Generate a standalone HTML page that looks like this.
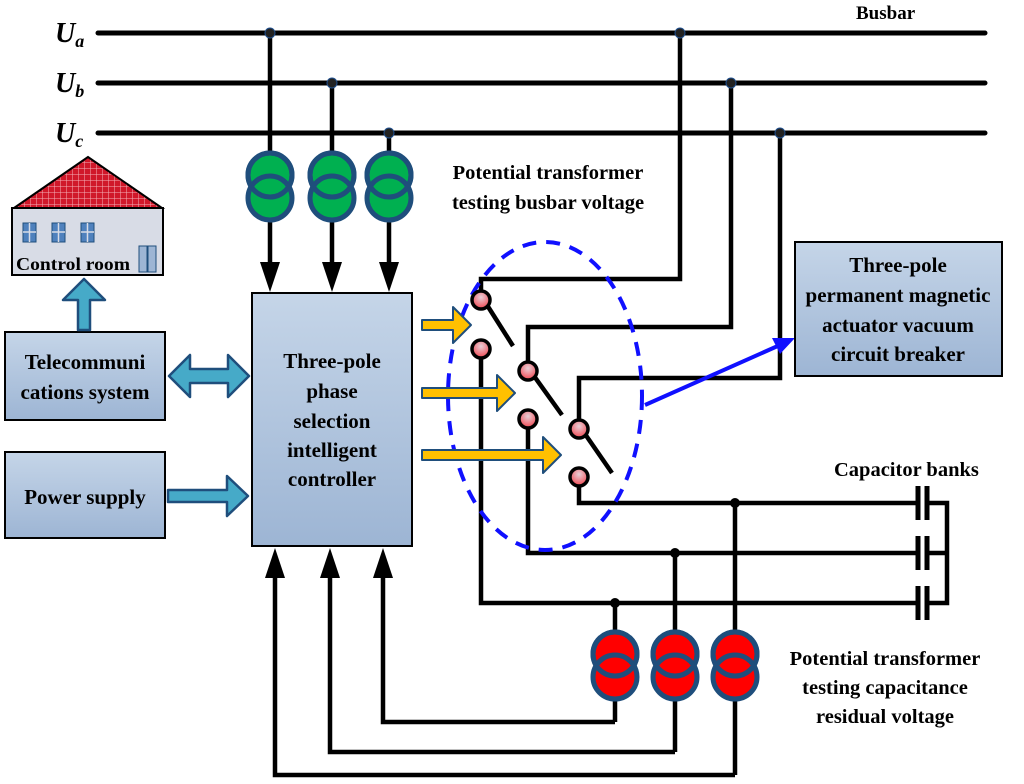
<!DOCTYPE html>
<html><head><meta charset="utf-8"><style>
html,body{margin:0;padding:0;background:#fff}
svg{display:block}
text{font-family:"Liberation Serif",serif;font-weight:bold;fill:#000}
</style></head><body>
<svg width="1024" height="784" viewBox="0 0 1024 784" xmlns="http://www.w3.org/2000/svg">
<defs>
<linearGradient id="bx" x1="0" y1="0" x2="0" y2="1"><stop offset="0" stop-color="#c5d5e8"/><stop offset="1" stop-color="#9db5d4"/></linearGradient>
<radialGradient id="ct" cx="0.5" cy="0.35" r="0.6"><stop offset="0" stop-color="#e8d0d8"/><stop offset="1" stop-color="#f0505a"/></radialGradient>
<pattern id="rf" width="6" height="6" patternUnits="userSpaceOnUse"><rect width="6" height="6" fill="#d0182a"/><path d="M0 0H6M0 0V6" stroke="#f4b0b8" stroke-width="1"/></pattern>
</defs>
<g stroke="#000" stroke-width="5" fill="none" stroke-linecap="round">
<line x1="98" y1="33" x2="985" y2="33"/>
<line x1="98" y1="83" x2="985" y2="83"/>
<line x1="98" y1="133" x2="985" y2="133"/>
</g>
<text x="55" y="42" font-size="28" font-style="italic">U<tspan font-size="18" dy="5">a</tspan></text>
<text x="55" y="92" font-size="28" font-style="italic">U<tspan font-size="18" dy="5">b</tspan></text>
<text x="55" y="142" font-size="28" font-style="italic">U<tspan font-size="18" dy="5">c</tspan></text>
<text x="856" y="19" font-size="19">Busbar</text>
<g stroke="#000" stroke-width="4.5" fill="none">
<line x1="270" y1="33" x2="270" y2="265"/>
<line x1="332" y1="83" x2="332" y2="265"/>
<line x1="389" y1="133" x2="389" y2="265"/>
<polyline points="481,300 481,279 680,279 680,33"/>
<polyline points="528,371 528,327 731,327 731,83"/>
<polyline points="579,429 579,378 780,378 780,133"/>
<polyline points="481,349 481,603 918,603"/>
<polyline points="528,419 528,553 918,553"/>
<polyline points="579,477 579,503 918,503"/>
<polyline points="927,503 947,503 947,603 927,603"/>
<line x1="927" y1="553" x2="947" y2="553"/>
<line x1="615" y1="603" x2="615" y2="722"/><polyline points="615,722 383,722 383,575"/>
<line x1="675" y1="553" x2="675" y2="752"/><polyline points="675,752 330,752 330,575"/>
<line x1="735" y1="503" x2="735" y2="775"/><polyline points="735,775 275,775 275,575"/>
<line x1="513" y1="346" x2="487" y2="305"/>
<line x1="562" y1="415" x2="534" y2="376"/>
<line x1="612" y1="473" x2="585" y2="434"/>
</g>
<g stroke="#000" stroke-width="5">
<line x1="918" y1="486" x2="918" y2="520"/><line x1="927" y1="486" x2="927" y2="520"/>
<line x1="918" y1="536" x2="918" y2="570"/><line x1="927" y1="536" x2="927" y2="570"/>
<line x1="918" y1="586" x2="918" y2="620"/><line x1="927" y1="586" x2="927" y2="620"/>
</g>
<g fill="#000">
<path d="M260 262h20l-10 30z"/><path d="M322 262h20l-10 30z"/><path d="M379 262h20l-10 30z"/>
<path d="M265 578h20l-10 -30z"/><path d="M320 578h20l-10 -30z"/><path d="M373 578h20l-10 -30z"/>
<circle cx="615" cy="603" r="5"/><circle cx="675" cy="553" r="5"/><circle cx="735" cy="503" r="5"/>
</g>
<g fill="#222" stroke="#1f4e8c" stroke-width="1">
<circle cx="270" cy="33" r="5"/><circle cx="680" cy="33" r="5"/><circle cx="332" cy="83" r="5"/><circle cx="731" cy="83" r="5"/><circle cx="389" cy="133" r="5"/><circle cx="780" cy="133" r="5"/>
</g>
<g stroke="#1f4e7c" stroke-width="5" fill="#00b050">
<circle cx="270" cy="175" r="22"/><circle cx="270" cy="198" r="22"/><circle cx="270" cy="175" r="22" fill="none"/>
<circle cx="332" cy="175" r="22"/><circle cx="332" cy="198" r="22"/><circle cx="332" cy="175" r="22" fill="none"/>
<circle cx="389" cy="175" r="22"/><circle cx="389" cy="198" r="22"/><circle cx="389" cy="175" r="22" fill="none"/>
</g>
<g stroke="#1f4e7c" stroke-width="5" fill="#ff0000">
<circle cx="615" cy="654" r="22"/><circle cx="615" cy="677" r="22"/><circle cx="615" cy="654" r="22" fill="none"/>
<circle cx="675" cy="654" r="22"/><circle cx="675" cy="677" r="22"/><circle cx="675" cy="654" r="22" fill="none"/>
<circle cx="735" cy="654" r="22"/><circle cx="735" cy="677" r="22"/><circle cx="735" cy="654" r="22" fill="none"/>
</g>
<text x="548" y="179" font-size="20.5" text-anchor="middle">Potential transformer</text>
<text x="548" y="209" font-size="20.5" text-anchor="middle">testing busbar voltage</text>
<text x="834" y="476" font-size="20.5">Capacitor banks</text>
<text x="885" y="665" font-size="20.5" text-anchor="middle">Potential transformer</text>
<text x="885" y="694" font-size="20.5" text-anchor="middle">testing capacitance</text>
<text x="885" y="723" font-size="20.5" text-anchor="middle">residual voltage</text>
<ellipse cx="545" cy="396" rx="97" ry="154" fill="none" stroke="#1010ff" stroke-width="4" stroke-dasharray="14,10"/>
<line x1="645" y1="405" x2="780" y2="345" stroke="#1010ff" stroke-width="4"/>
<path d="M795 338L772 338L780 354z" fill="#1010ff"/>
<g stroke="#000" stroke-width="3.5" fill="url(#ct)">
<circle cx="481" cy="300" r="9"/><circle cx="481" cy="349" r="9"/>
<circle cx="528" cy="371" r="9"/><circle cx="528" cy="419" r="9"/>
<circle cx="579" cy="429" r="9"/><circle cx="579" cy="477" r="9"/>
</g>
<g fill="#ffc000" stroke="#1f4e7c" stroke-width="2" stroke-linejoin="round">
<path d="M422 320h31v-13l18 18l-18 18v-13h-31z"/>
<path d="M422 388h75v-13l18 18l-18 18v-13h-75z"/>
<path d="M422 450h121v-13l18 18l-18 18v-13h-121z"/>
</g>
<rect x="252" y="293" width="160" height="253" fill="url(#bx)" stroke="#000" stroke-width="2"/>
<text x="332" y="368" font-size="21" text-anchor="middle">Three-pole</text>
<text x="332" y="398" font-size="21" text-anchor="middle">phase</text>
<text x="332" y="428" font-size="21" text-anchor="middle">selection</text>
<text x="332" y="457" font-size="21" text-anchor="middle">intelligent</text>
<text x="332" y="486" font-size="21" text-anchor="middle">controller</text>
<rect x="5" y="332" width="160" height="88" fill="url(#bx)" stroke="#000" stroke-width="2"/>
<text x="85" y="369" font-size="21" text-anchor="middle">Telecommuni</text>
<text x="85" y="399" font-size="21" text-anchor="middle">cations system</text>
<rect x="5" y="452" width="160" height="86" fill="url(#bx)" stroke="#000" stroke-width="2"/>
<text x="85" y="504" font-size="21" text-anchor="middle">Power supply</text>
<rect x="795" y="242" width="207" height="134" fill="url(#bx)" stroke="#000" stroke-width="2"/>
<text x="898" y="272" font-size="21" text-anchor="middle">Three-pole</text>
<text x="898" y="302" font-size="21" text-anchor="middle">permanent magnetic</text>
<text x="898" y="332" font-size="21" text-anchor="middle">actuator vacuum</text>
<text x="898" y="361" font-size="21" text-anchor="middle">circuit breaker</text>
<g fill="#46aac8" stroke="#1f4e7c" stroke-width="2.5" stroke-linejoin="round">
<path d="M169 376l21-21v14h38v-14l21 21l-21 21v-14h-38v14z"/>
<path d="M168 490h59v-14l21 20l-21 20v-14h-59z"/>
<path d="M78 330v-30h-15l21-21l21 21h-15v30z"/>
</g>
<path d="M14 208L88 157L162 208z" fill="url(#rf)" stroke="#000" stroke-width="2"/>
<rect x="12" y="208" width="151" height="67" fill="#d8dce6" stroke="#000" stroke-width="2"/>
<g fill="#4f81bd" stroke="#1f4e7c" stroke-width="1">
<rect x="23" y="223" width="13" height="19"/><rect x="52" y="223" width="13" height="19"/><rect x="81" y="223" width="13" height="19"/>
<rect x="139" y="246" width="17" height="26" fill="#9db5d4"/>
</g>
<g stroke="#d8dce6" stroke-width="1.5">
<line x1="29.5" y1="223" x2="29.5" y2="242"/><line x1="23" y1="232" x2="36" y2="232"/>
<line x1="58.5" y1="223" x2="58.5" y2="242"/><line x1="52" y1="232" x2="65" y2="232"/>
<line x1="87.5" y1="223" x2="87.5" y2="242"/><line x1="81" y1="232" x2="94" y2="232"/>
</g>
<line x1="147.5" y1="246" x2="147.5" y2="272" stroke="#1f4e7c" stroke-width="2"/>
<text x="16" y="270" font-size="18" font-weight="normal" textLength="114" lengthAdjust="spacingAndGlyphs">Control room</text>
</svg>
</body></html>
